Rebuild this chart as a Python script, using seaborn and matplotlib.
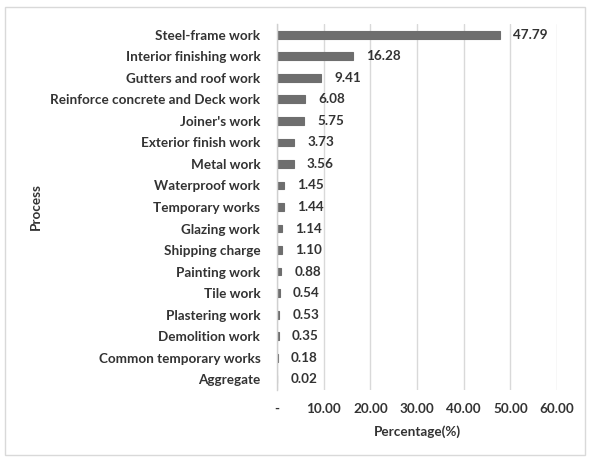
import matplotlib
matplotlib.use("Agg")
import matplotlib.pyplot as plt
import seaborn as sns
import pandas as pd
from matplotlib.patches import Rectangle

processes = ["Steel-frame work", "Interior finishing work", "Gutters and roof work",
             "Reinforce concrete and Deck work", "Joiner's work", "Exterior finish work",
             "Metal work", "Waterproof work", "Temporary works", "Glazing work",
             "Shipping charge", "Painting work", "Tile work", "Plastering work",
             "Demolition work", "Common temporary works", "Aggregate"]
percentages = [47.79, 16.28, 9.41, 6.08, 5.75, 3.73, 3.56, 1.45, 1.44, 1.14,
               1.10, 0.88, 0.54, 0.53, 0.35, 0.18, 0.02]
xticks = [0, 10, 20, 30, 40, 50, 60]
xtick_labels = ["-", "10.00", "20.00", "30.00", "40.00", "50.00", "60.00"]

df = pd.DataFrame({"Process": processes, "Percentage": percentages})

sns.set_theme(style="white")
plt.rcParams['font.family'] = ['Lato', 'DejaVu Sans']
txt = "#333333"
fs = 9.7

fig = plt.figure(figsize=(5.91, 4.61), dpi=100)
ax = fig.add_axes([0.4687, 0.154, 0.4738, 0.794])

sns.barplot(data=df, x="Percentage", y="Process", color="#6e6e6e",
            width=0.36, ax=ax, saturation=1, orient="h",
            edgecolor="#6e6e6e", linewidth=0.8)

ax.set_xlim(0, 60)
ax.set_ylim(16.5, -0.5)
ax.set_xticks(xticks)
ax.set_xticklabels(xtick_labels, fontsize=fs, fontweight="bold", color=txt)
ax.tick_params(axis="y", labelsize=fs, colors=txt, length=0, pad=12)
for lab in ax.get_yticklabels():
    lab.set_fontweight("bold")
ax.tick_params(axis="x", length=0, pad=9)
ax.xaxis.grid(True, color="#d9d9d9", linewidth=1)
ax.set_axisbelow(True)
for s in ["top", "right", "bottom"]:
    ax.spines[s].set_visible(False)
ax.spines["left"].set_color("#d0d0d0")
ax.spines["left"].set_linewidth(1)

for i, v in enumerate(percentages):
    ax.annotate(f"{v:.2f}", xy=(v, i), xytext=(9.5, 0), textcoords="offset points",
                va="center", ha="left", fontsize=fs, fontweight="bold", color=txt)

ax.set_xlabel("Percentage(%)", fontsize=fs, fontweight="bold", color=txt, labelpad=8)
ax.set_ylabel("Process", fontsize=fs, fontweight="bold", color=txt)
ax.yaxis.set_label_coords(-0.84, 0.5)

fig.patches.append(Rectangle((5/591, 1 - 455/461), 580/591, 448/461,
                             transform=fig.transFigure, fill=False,
                             edgecolor="#d9d9d9", linewidth=1))

fig.savefig("out.png", dpi=100)
